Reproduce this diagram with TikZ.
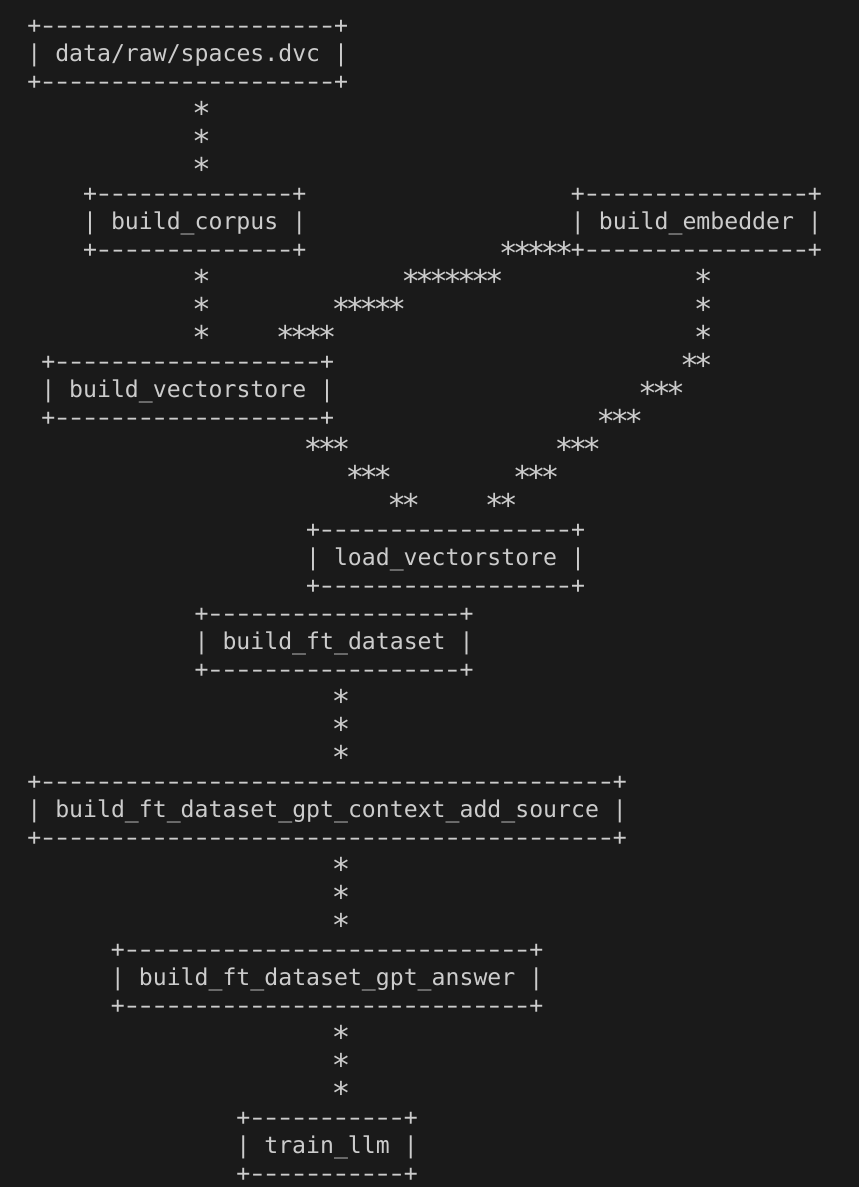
\documentclass[tikz,border=0pt]{standalone}
\usepackage{graphicx}
\usepackage{fontspec}
\setmonofont{DejaVu Sans Mono}

\definecolor{termbg}{HTML}{1A1A1A}
\definecolor{termfg}{HTML}{CCCCCC}

% one text row of the terminal (rows are 14pt apart)
\newcommand{\trow}[1]{\rule[-3.5pt]{0pt}{13pt}#1}
\newcommand{\onedash}{\makebox[0.602em]{\scalebox{1.45}[1]{-}}}
\newcommand{\dashrow}[1]{\trow{+\foreach \k in {1,...,#1}{\onedash}+}}
\newcommand{\asciibox}[2]{\dashrow{#1}\\\trow{| #2 |}\\\dashrow{#1}}
\newcommand{\onestar}{\makebox[0.602em]{\raisebox{-7.5pt}{\scalebox{1.35}{*}}}}
\newcommand{\stars}[1]{\trow{\foreach \k in {1,...,#1}{\onestar}}}

\begin{document}
\begin{tikzpicture}[x=6.975pt,y=-14pt,
	boxnode/.style={anchor=west,inner sep=0pt,yshift=-2pt,align=left,text=termfg,font=\ttfamily\fontsize{11.59pt}{14pt}\selectfont},
	starnode/.style={anchor=west,inner sep=0pt,text=termfg,font=\ttfamily\fontsize{11.59pt}{14pt}\selectfont}]
		\fill[termbg] (-1.935,-0.857) rectangle (59.714,41.571);

		\node[boxnode]	at (0,1)	(dvc)		{\asciibox{21}{data/raw/spaces.dvc}};
		\node[boxnode]	at (4,7)	(corpus)	{\asciibox{14}{build\_corpus}};
		\node[boxnode]	at (39,7)	(embedder)	{\asciibox{16}{build\_embedder}};
		\node[boxnode]	at (1,13)	(vstore)	{\asciibox{19}{build\_vectorstore}};
		\node[boxnode]	at (20,19)	(loadvs)	{\asciibox{18}{load\_vectorstore}};
		\node[boxnode]	at (12,22)	(ftdata)	{\asciibox{18}{build\_ft\_dataset}};
		\node[boxnode]	at (0,28)	(context)	{\asciibox{41}{build\_ft\_dataset\_gpt\_context\_add\_source}};
		\node[boxnode]	at (6,34)	(answer)	{\asciibox{29}{build\_ft\_dataset\_gpt\_answer}};
		\node[boxnode]	at (15,40)	(train)		{\asciibox{11}{train\_llm}};

		% dvc -> corpus
		\node[starnode]	at (12,3)	(d1)	{\stars{1}};
		\node[starnode]	at (12,4)	(d2)	{\stars{1}};
		\node[starnode]	at (12,5)	(d3)	{\stars{1}};

		% corpus -> vstore
		\node[starnode]	at (12,9)	(c1)	{\stars{1}};
		\node[starnode]	at (12,10)	(c2)	{\stars{1}};
		\node[starnode]	at (12,11)	(c3)	{\stars{1}};

		% embedder -> vstore
		\node[starnode]	at (34,8)	(e1)	{\stars{5}};
		\node[starnode]	at (27,9)	(e2)	{\stars{7}};
		\node[starnode]	at (22,10)	(e3)	{\stars{5}};
		\node[starnode]	at (18,11)	(e4)	{\stars{4}};

		% embedder -> loadvs
		\node[starnode]	at (48,9)	(f1)	{\stars{1}};
		\node[starnode]	at (48,10)	(f2)	{\stars{1}};
		\node[starnode]	at (48,11)	(f3)	{\stars{1}};
		\node[starnode]	at (47,12)	(f4)	{\stars{2}};
		\node[starnode]	at (44,13)	(f5)	{\stars{3}};
		\node[starnode]	at (41,14)	(f6)	{\stars{3}};
		\node[starnode]	at (38,15)	(f7)	{\stars{3}};
		\node[starnode]	at (35,16)	(f8)	{\stars{3}};
		\node[starnode]	at (33,17)	(f9)	{\stars{2}};

		% vstore -> loadvs
		\node[starnode]	at (20,15)	(v1)	{\stars{3}};
		\node[starnode]	at (23,16)	(v2)	{\stars{3}};
		\node[starnode]	at (26,17)	(v3)	{\stars{2}};

		% ftdata -> context
		\node[starnode]	at (22,24)	(g1)	{\stars{1}};
		\node[starnode]	at (22,25)	(g2)	{\stars{1}};
		\node[starnode]	at (22,26)	(g3)	{\stars{1}};

		% context -> answer
		\node[starnode]	at (22,30)	(h1)	{\stars{1}};
		\node[starnode]	at (22,31)	(h2)	{\stars{1}};
		\node[starnode]	at (22,32)	(h3)	{\stars{1}};

		% answer -> train
		\node[starnode]	at (22,36)	(t1)	{\stars{1}};
		\node[starnode]	at (22,37)	(t2)	{\stars{1}};
		\node[starnode]	at (22,38)	(t3)	{\stars{1}};
	\end{tikzpicture}
\end{document}
